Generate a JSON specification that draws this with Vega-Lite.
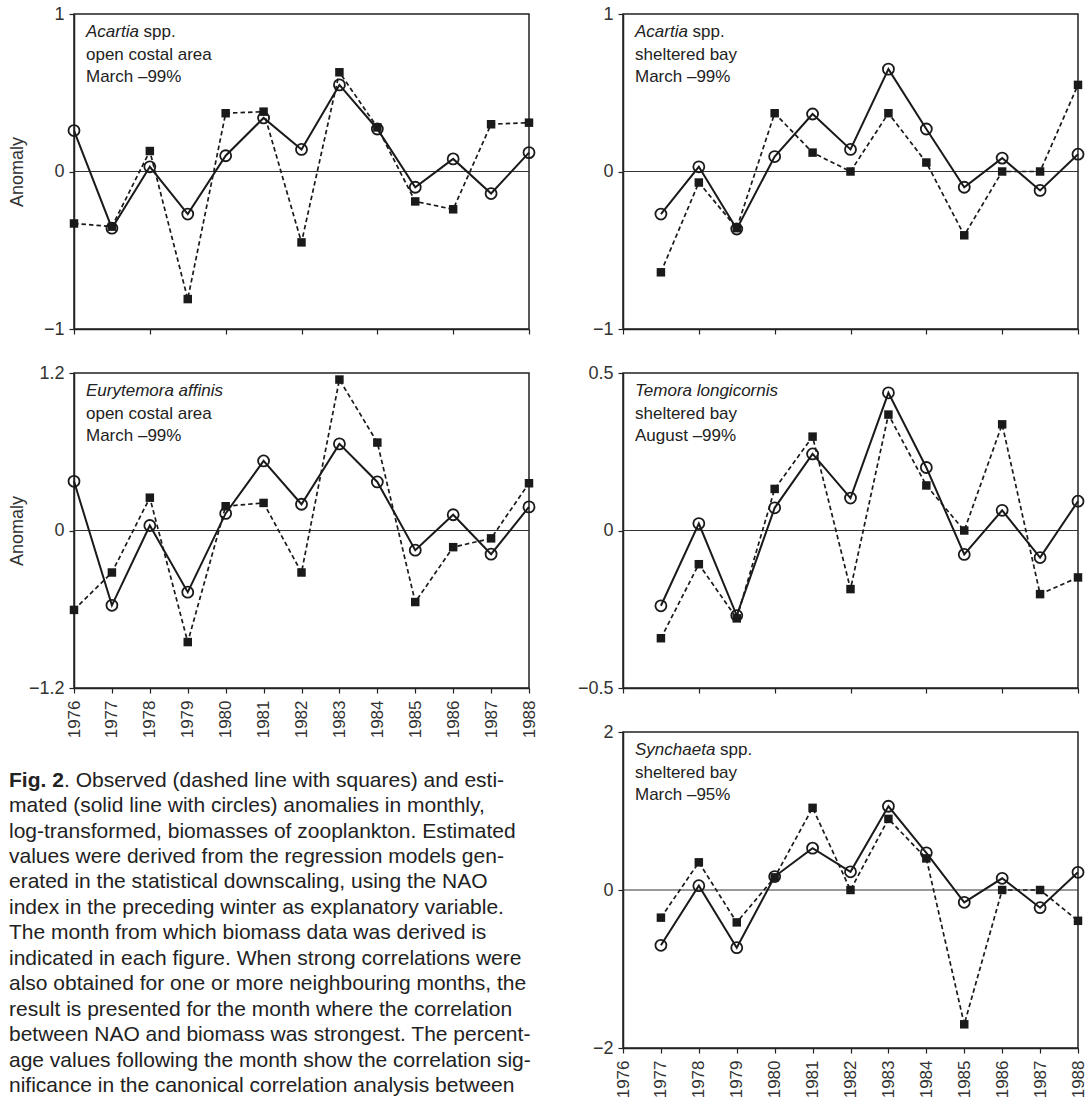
{
  "$schema": "https://vega.github.io/schema/vega-lite/v6.json",
  "padding": {"left": 7, "top": 4, "right": 4, "bottom": 0},
  "background": "white",
  "config": {
    "font": "Liberation Sans",
    "view": {"stroke": "#222", "strokeWidth": 1.5},
    "axis": {"grid": false, "domainColor": "#222", "domainWidth": 1.5, "tickColor": "#222", "tickWidth": 1.2, "tickSize": 5, "labelColor": "#333", "labelFontSize": 18, "labelFont": "Liberation Sans", "labelPadding": 5, "labelOverlap": false, "titleFont": "Liberation Sans", "titleFontSize": 18, "titleFontWeight": "normal", "titleColor": "#333"},
    "text": {"font": "Liberation Sans", "color": "#222"}
  },
  "datasets": {
    "anom": [
      {"panel": "p1", "year": 1976, "series": "estimated", "value": 0.26},
      {"panel": "p1", "year": 1977, "series": "estimated", "value": -0.36},
      {"panel": "p1", "year": 1978, "series": "estimated", "value": 0.03},
      {"panel": "p1", "year": 1979, "series": "estimated", "value": -0.27},
      {"panel": "p1", "year": 1980, "series": "estimated", "value": 0.10},
      {"panel": "p1", "year": 1981, "series": "estimated", "value": 0.34},
      {"panel": "p1", "year": 1982, "series": "estimated", "value": 0.14},
      {"panel": "p1", "year": 1983, "series": "estimated", "value": 0.55},
      {"panel": "p1", "year": 1984, "series": "estimated", "value": 0.27},
      {"panel": "p1", "year": 1985, "series": "estimated", "value": -0.10},
      {"panel": "p1", "year": 1986, "series": "estimated", "value": 0.08},
      {"panel": "p1", "year": 1987, "series": "estimated", "value": -0.14},
      {"panel": "p1", "year": 1988, "series": "estimated", "value": 0.12},
      {"panel": "p1", "year": 1976, "series": "observed", "value": -0.33},
      {"panel": "p1", "year": 1977, "series": "observed", "value": -0.35},
      {"panel": "p1", "year": 1978, "series": "observed", "value": 0.13},
      {"panel": "p1", "year": 1979, "series": "observed", "value": -0.81},
      {"panel": "p1", "year": 1980, "series": "observed", "value": 0.37},
      {"panel": "p1", "year": 1981, "series": "observed", "value": 0.38},
      {"panel": "p1", "year": 1982, "series": "observed", "value": -0.45},
      {"panel": "p1", "year": 1983, "series": "observed", "value": 0.63},
      {"panel": "p1", "year": 1984, "series": "observed", "value": 0.28},
      {"panel": "p1", "year": 1985, "series": "observed", "value": -0.19},
      {"panel": "p1", "year": 1986, "series": "observed", "value": -0.24},
      {"panel": "p1", "year": 1987, "series": "observed", "value": 0.30},
      {"panel": "p1", "year": 1988, "series": "observed", "value": 0.31},
      {"panel": "p2", "year": 1977, "series": "estimated", "value": -0.27},
      {"panel": "p2", "year": 1978, "series": "estimated", "value": 0.03},
      {"panel": "p2", "year": 1979, "series": "estimated", "value": -0.365},
      {"panel": "p2", "year": 1980, "series": "estimated", "value": 0.095},
      {"panel": "p2", "year": 1981, "series": "estimated", "value": 0.365},
      {"panel": "p2", "year": 1982, "series": "estimated", "value": 0.14},
      {"panel": "p2", "year": 1983, "series": "estimated", "value": 0.65},
      {"panel": "p2", "year": 1984, "series": "estimated", "value": 0.27},
      {"panel": "p2", "year": 1985, "series": "estimated", "value": -0.10},
      {"panel": "p2", "year": 1986, "series": "estimated", "value": 0.085},
      {"panel": "p2", "year": 1987, "series": "estimated", "value": -0.12},
      {"panel": "p2", "year": 1988, "series": "estimated", "value": 0.11},
      {"panel": "p2", "year": 1977, "series": "observed", "value": -0.64},
      {"panel": "p2", "year": 1978, "series": "observed", "value": -0.07},
      {"panel": "p2", "year": 1979, "series": "observed", "value": -0.36},
      {"panel": "p2", "year": 1980, "series": "observed", "value": 0.37},
      {"panel": "p2", "year": 1981, "series": "observed", "value": 0.12},
      {"panel": "p2", "year": 1982, "series": "observed", "value": 0.0},
      {"panel": "p2", "year": 1983, "series": "observed", "value": 0.37},
      {"panel": "p2", "year": 1984, "series": "observed", "value": 0.057},
      {"panel": "p2", "year": 1985, "series": "observed", "value": -0.405},
      {"panel": "p2", "year": 1986, "series": "observed", "value": 0.0},
      {"panel": "p2", "year": 1987, "series": "observed", "value": 0.0},
      {"panel": "p2", "year": 1988, "series": "observed", "value": 0.55},
      {"panel": "p3", "year": 1976, "series": "estimated", "value": 0.375},
      {"panel": "p3", "year": 1977, "series": "estimated", "value": -0.57},
      {"panel": "p3", "year": 1978, "series": "estimated", "value": 0.038},
      {"panel": "p3", "year": 1979, "series": "estimated", "value": -0.47},
      {"panel": "p3", "year": 1980, "series": "estimated", "value": 0.13},
      {"panel": "p3", "year": 1981, "series": "estimated", "value": 0.53},
      {"panel": "p3", "year": 1982, "series": "estimated", "value": 0.20},
      {"panel": "p3", "year": 1983, "series": "estimated", "value": 0.66},
      {"panel": "p3", "year": 1984, "series": "estimated", "value": 0.37},
      {"panel": "p3", "year": 1985, "series": "estimated", "value": -0.15},
      {"panel": "p3", "year": 1986, "series": "estimated", "value": 0.12},
      {"panel": "p3", "year": 1987, "series": "estimated", "value": -0.18},
      {"panel": "p3", "year": 1988, "series": "estimated", "value": 0.18},
      {"panel": "p3", "year": 1976, "series": "observed", "value": -0.605},
      {"panel": "p3", "year": 1977, "series": "observed", "value": -0.32},
      {"panel": "p3", "year": 1978, "series": "observed", "value": 0.25},
      {"panel": "p3", "year": 1979, "series": "observed", "value": -0.85},
      {"panel": "p3", "year": 1980, "series": "observed", "value": 0.185},
      {"panel": "p3", "year": 1981, "series": "observed", "value": 0.21},
      {"panel": "p3", "year": 1982, "series": "observed", "value": -0.32},
      {"panel": "p3", "year": 1983, "series": "observed", "value": 1.15},
      {"panel": "p3", "year": 1984, "series": "observed", "value": 0.67},
      {"panel": "p3", "year": 1985, "series": "observed", "value": -0.545},
      {"panel": "p3", "year": 1986, "series": "observed", "value": -0.127},
      {"panel": "p3", "year": 1987, "series": "observed", "value": -0.06},
      {"panel": "p3", "year": 1988, "series": "observed", "value": 0.36},
      {"panel": "p4", "year": 1977, "series": "estimated", "value": -0.239},
      {"panel": "p4", "year": 1978, "series": "estimated", "value": 0.022},
      {"panel": "p4", "year": 1979, "series": "estimated", "value": -0.27},
      {"panel": "p4", "year": 1980, "series": "estimated", "value": 0.072},
      {"panel": "p4", "year": 1981, "series": "estimated", "value": 0.243},
      {"panel": "p4", "year": 1982, "series": "estimated", "value": 0.103},
      {"panel": "p4", "year": 1983, "series": "estimated", "value": 0.437},
      {"panel": "p4", "year": 1984, "series": "estimated", "value": 0.20},
      {"panel": "p4", "year": 1985, "series": "estimated", "value": -0.076},
      {"panel": "p4", "year": 1986, "series": "estimated", "value": 0.064},
      {"panel": "p4", "year": 1987, "series": "estimated", "value": -0.086},
      {"panel": "p4", "year": 1988, "series": "estimated", "value": 0.093},
      {"panel": "p4", "year": 1977, "series": "observed", "value": -0.342},
      {"panel": "p4", "year": 1978, "series": "observed", "value": -0.107},
      {"panel": "p4", "year": 1979, "series": "observed", "value": -0.279},
      {"panel": "p4", "year": 1980, "series": "observed", "value": 0.132},
      {"panel": "p4", "year": 1981, "series": "observed", "value": 0.298},
      {"panel": "p4", "year": 1982, "series": "observed", "value": -0.186},
      {"panel": "p4", "year": 1983, "series": "observed", "value": 0.368},
      {"panel": "p4", "year": 1984, "series": "observed", "value": 0.143},
      {"panel": "p4", "year": 1985, "series": "observed", "value": 0.0},
      {"panel": "p4", "year": 1986, "series": "observed", "value": 0.337},
      {"panel": "p4", "year": 1987, "series": "observed", "value": -0.202},
      {"panel": "p4", "year": 1988, "series": "observed", "value": -0.149},
      {"panel": "p5", "year": 1977, "series": "estimated", "value": -0.70},
      {"panel": "p5", "year": 1978, "series": "estimated", "value": 0.055},
      {"panel": "p5", "year": 1979, "series": "estimated", "value": -0.73},
      {"panel": "p5", "year": 1980, "series": "estimated", "value": 0.17},
      {"panel": "p5", "year": 1981, "series": "estimated", "value": 0.53},
      {"panel": "p5", "year": 1982, "series": "estimated", "value": 0.23},
      {"panel": "p5", "year": 1983, "series": "estimated", "value": 1.06},
      {"panel": "p5", "year": 1984, "series": "estimated", "value": 0.47},
      {"panel": "p5", "year": 1985, "series": "estimated", "value": -0.156},
      {"panel": "p5", "year": 1986, "series": "estimated", "value": 0.148},
      {"panel": "p5", "year": 1987, "series": "estimated", "value": -0.224},
      {"panel": "p5", "year": 1988, "series": "estimated", "value": 0.224},
      {"panel": "p5", "year": 1977, "series": "observed", "value": -0.35},
      {"panel": "p5", "year": 1978, "series": "observed", "value": 0.35},
      {"panel": "p5", "year": 1979, "series": "observed", "value": -0.41},
      {"panel": "p5", "year": 1980, "series": "observed", "value": 0.16},
      {"panel": "p5", "year": 1981, "series": "observed", "value": 1.04},
      {"panel": "p5", "year": 1982, "series": "observed", "value": 0.0},
      {"panel": "p5", "year": 1983, "series": "observed", "value": 0.90},
      {"panel": "p5", "year": 1984, "series": "observed", "value": 0.40},
      {"panel": "p5", "year": 1985, "series": "observed", "value": -1.70},
      {"panel": "p5", "year": 1986, "series": "observed", "value": 0.0},
      {"panel": "p5", "year": 1987, "series": "observed", "value": 0.0},
      {"panel": "p5", "year": 1988, "series": "observed", "value": -0.39}
    ],
    "labels": [
      {"panel": "p1", "line": 1, "style": "italic", "text": "Acartia"},
      {"panel": "p1", "line": 1, "style": "normal", "text": "spp."},
      {"panel": "p1", "line": 2, "style": "normal", "text": "open costal area"},
      {"panel": "p1", "line": 3, "style": "normal", "text": "March –99%"},
      {"panel": "p2", "line": 1, "style": "italic", "text": "Acartia"},
      {"panel": "p2", "line": 1, "style": "normal", "text": "spp."},
      {"panel": "p2", "line": 2, "style": "normal", "text": "sheltered bay"},
      {"panel": "p2", "line": 3, "style": "normal", "text": "March –99%"},
      {"panel": "p3", "line": 1, "style": "italic", "text": "Eurytemora affinis"},
      {"panel": "p3", "line": 2, "style": "normal", "text": "open costal area"},
      {"panel": "p3", "line": 3, "style": "normal", "text": "March –99%"},
      {"panel": "p4", "line": 1, "style": "italic", "text": "Temora longicornis"},
      {"panel": "p4", "line": 2, "style": "normal", "text": "sheltered bay"},
      {"panel": "p4", "line": 3, "style": "normal", "text": "August –99%"},
      {"panel": "p5", "line": 1, "style": "italic", "text": "Synchaeta"},
      {"panel": "p5", "line": 1, "style": "normal", "text": "spp."},
      {"panel": "p5", "line": 2, "style": "normal", "text": "sheltered bay"},
      {"panel": "p5", "line": 3, "style": "normal", "text": "March –95%"}
    ],
    "caption": [
      {"line": 1, "part": "bold", "text": "Fig. 2"},
      {"line": 1, "part": "first", "text": ". Observed (dashed line with squares) and esti-"},
      {"line": 2, "part": "body", "text": "mated (solid line with circles) anomalies in monthly,"},
      {"line": 3, "part": "body", "text": "log-transformed, biomasses of zooplankton. Estimated"},
      {"line": 4, "part": "body", "text": "values were derived from the regression models gen-"},
      {"line": 5, "part": "body", "text": "erated in the statistical downscaling, using the NAO"},
      {"line": 6, "part": "body", "text": "index in the preceding winter as explanatory variable."},
      {"line": 7, "part": "body", "text": "The month from which biomass data was derived is"},
      {"line": 8, "part": "body", "text": "indicated in each figure. When strong correlations were"},
      {"line": 9, "part": "body", "text": "also obtained for one or more neighbouring months, the"},
      {"line": 10, "part": "body", "text": "result is presented for the month where the correlation"},
      {"line": 11, "part": "body", "text": "between NAO and biomass was strongest. The percent-"},
      {"line": 12, "part": "body", "text": "age values following the month show the correlation sig-"},
      {"line": 13, "part": "body", "text": "nificance in the canonical correlation analysis between"}
    ]
  },
  "columns": 2,
  "bounds": "flush",
  "spacing": {"row": 44, "column": 94},
  "concat": [
    {
      "width": 455, "height": 315,
      "layer": [
        {"data": {"values": [{}]}, "mark": {"type": "rule", "color": "#333", "strokeWidth": 1}, "encoding": {"y": {"datum": 0}}},
        {"data": {"name": "anom"}, "transform": [{"filter": "datum.panel === 'p1' && datum.series === 'observed'"}], "mark": {"type": "line", "color": "#1a1a1a", "strokeWidth": 1.7, "strokeDash": [4.5, 3]},
         "encoding": {
           "x": {"field": "year", "type": "quantitative", "scale": {"domain": [1976, 1988], "nice": false, "zero": false}, "axis": {"values": [1976, 1978, 1980, 1982, 1984, 1986, 1988], "labels": false, "title": null}},
           "y": {"field": "value", "type": "quantitative", "scale": {"domain": [-1, 1], "nice": false, "zero": false}, "axis": {"values": [-1, 0, 1], "format": "~g", "title": "Anomaly", "minExtent": 46, "maxExtent": 46, "titlePadding": 2}}
         }},
        {"data": {"name": "anom"}, "transform": [{"filter": "datum.panel === 'p1' && datum.series === 'estimated'"}], "mark": {"type": "line", "color": "#1a1a1a", "strokeWidth": 2}, "encoding": {"x": {"field": "year", "type": "quantitative"}, "y": {"field": "value", "type": "quantitative"}}},
        {"data": {"name": "anom"}, "transform": [{"filter": "datum.panel === 'p1' && datum.series === 'observed'"}], "mark": {"type": "point", "shape": "square", "filled": true, "size": 72, "color": "#1a1a1a", "opacity": 1}, "encoding": {"x": {"field": "year", "type": "quantitative"}, "y": {"field": "value", "type": "quantitative"}}},
        {"data": {"name": "anom"}, "transform": [{"filter": "datum.panel === 'p1' && datum.series === 'estimated'"}], "mark": {"type": "point", "shape": "circle", "filled": false, "size": 121, "color": "#1a1a1a", "strokeWidth": 1.8, "opacity": 1}, "encoding": {"x": {"field": "year", "type": "quantitative"}, "y": {"field": "value", "type": "quantitative"}}},
        {"data": {"name": "labels"}, "transform": [{"filter": "datum.panel === 'p1' && datum.line === 1 && datum.style === 'italic'"}], "mark": {"type": "text", "align": "left", "baseline": "alphabetic", "fontSize": 17, "fontStyle": "italic", "dx": 12, "dy": 23}, "encoding": {"x": {"datum": 1976}, "y": {"datum": 1}, "text": {"field": "text"}}},
        {"data": {"name": "labels"}, "transform": [{"filter": "datum.panel === 'p1' && datum.line === 1 && datum.style === 'normal'"}], "mark": {"type": "text", "align": "left", "baseline": "alphabetic", "fontSize": 17, "dx": 69.6, "dy": 23}, "encoding": {"x": {"datum": 1976}, "y": {"datum": 1}, "text": {"field": "text"}}},
        {"data": {"name": "labels"}, "transform": [{"filter": "datum.panel === 'p1' && datum.line === 2"}], "mark": {"type": "text", "align": "left", "baseline": "alphabetic", "fontSize": 17, "dx": 12, "dy": 45.5}, "encoding": {"x": {"datum": 1976}, "y": {"datum": 1}, "text": {"field": "text"}}},
        {"data": {"name": "labels"}, "transform": [{"filter": "datum.panel === 'p1' && datum.line === 3"}], "mark": {"type": "text", "align": "left", "baseline": "alphabetic", "fontSize": 17, "dx": 12, "dy": 68}, "encoding": {"x": {"datum": 1976}, "y": {"datum": 1}, "text": {"field": "text"}}}
      ]
    },
    {
      "width": 455, "height": 315,
      "layer": [
        {"data": {"values": [{}]}, "mark": {"type": "rule", "color": "#333", "strokeWidth": 1}, "encoding": {"y": {"datum": 0}}},
        {"data": {"name": "anom"}, "transform": [{"filter": "datum.panel === 'p2' && datum.series === 'observed'"}], "mark": {"type": "line", "color": "#1a1a1a", "strokeWidth": 1.7, "strokeDash": [4.5, 3]},
         "encoding": {
           "x": {"field": "year", "type": "quantitative", "scale": {"domain": [1976, 1988], "nice": false, "zero": false}, "axis": {"values": [1976, 1978, 1980, 1982, 1984, 1986, 1988], "labels": false, "title": null}},
           "y": {"field": "value", "type": "quantitative", "scale": {"domain": [-1, 1], "nice": false, "zero": false}, "axis": {"values": [-1, 0, 1], "format": "~g", "title": null}}
         }},
        {"data": {"name": "anom"}, "transform": [{"filter": "datum.panel === 'p2' && datum.series === 'estimated'"}], "mark": {"type": "line", "color": "#1a1a1a", "strokeWidth": 2}, "encoding": {"x": {"field": "year", "type": "quantitative"}, "y": {"field": "value", "type": "quantitative"}}},
        {"data": {"name": "anom"}, "transform": [{"filter": "datum.panel === 'p2' && datum.series === 'observed'"}], "mark": {"type": "point", "shape": "square", "filled": true, "size": 72, "color": "#1a1a1a", "opacity": 1}, "encoding": {"x": {"field": "year", "type": "quantitative"}, "y": {"field": "value", "type": "quantitative"}}},
        {"data": {"name": "anom"}, "transform": [{"filter": "datum.panel === 'p2' && datum.series === 'estimated'"}], "mark": {"type": "point", "shape": "circle", "filled": false, "size": 121, "color": "#1a1a1a", "strokeWidth": 1.8, "opacity": 1}, "encoding": {"x": {"field": "year", "type": "quantitative"}, "y": {"field": "value", "type": "quantitative"}}},
        {"data": {"name": "labels"}, "transform": [{"filter": "datum.panel === 'p2' && datum.line === 1 && datum.style === 'italic'"}], "mark": {"type": "text", "align": "left", "baseline": "alphabetic", "fontSize": 17, "fontStyle": "italic", "dx": 12, "dy": 23}, "encoding": {"x": {"datum": 1976}, "y": {"datum": 1}, "text": {"field": "text"}}},
        {"data": {"name": "labels"}, "transform": [{"filter": "datum.panel === 'p2' && datum.line === 1 && datum.style === 'normal'"}], "mark": {"type": "text", "align": "left", "baseline": "alphabetic", "fontSize": 17, "dx": 69.6, "dy": 23}, "encoding": {"x": {"datum": 1976}, "y": {"datum": 1}, "text": {"field": "text"}}},
        {"data": {"name": "labels"}, "transform": [{"filter": "datum.panel === 'p2' && datum.line === 2"}], "mark": {"type": "text", "align": "left", "baseline": "alphabetic", "fontSize": 17, "dx": 12, "dy": 45.5}, "encoding": {"x": {"datum": 1976}, "y": {"datum": 1}, "text": {"field": "text"}}},
        {"data": {"name": "labels"}, "transform": [{"filter": "datum.panel === 'p2' && datum.line === 3"}], "mark": {"type": "text", "align": "left", "baseline": "alphabetic", "fontSize": 17, "dx": 12, "dy": 68}, "encoding": {"x": {"datum": 1976}, "y": {"datum": 1}, "text": {"field": "text"}}}
      ]
    },
    {
      "width": 455, "height": 315,
      "layer": [
        {"data": {"values": [{}]}, "mark": {"type": "rule", "color": "#333", "strokeWidth": 1}, "encoding": {"y": {"datum": 0}}},
        {"data": {"name": "anom"}, "transform": [{"filter": "datum.panel === 'p3' && datum.series === 'observed'"}], "mark": {"type": "line", "color": "#1a1a1a", "strokeWidth": 1.7, "strokeDash": [4.5, 3]},
         "encoding": {
           "x": {"field": "year", "type": "ordinal", "scale": {"type": "point", "padding": 0, "domain": [1976, 1977, 1978, 1979, 1980, 1981, 1982, 1983, 1984, 1985, 1986, 1987, 1988]}, "axis": {"labelAngle": -90, "labelFontSize": 17, "labelPadding": 7, "labelOverlap": false, "title": null}},
           "y": {"field": "value", "type": "quantitative", "scale": {"domain": [-1.2, 1.2], "nice": false, "zero": false}, "axis": {"values": [-1.2, 0, 1.2], "format": "~g", "title": "Anomaly", "minExtent": 46, "maxExtent": 46, "titlePadding": 2}}
         }},
        {"data": {"name": "anom"}, "transform": [{"filter": "datum.panel === 'p3' && datum.series === 'estimated'"}], "mark": {"type": "line", "color": "#1a1a1a", "strokeWidth": 2}, "encoding": {"x": {"field": "year", "type": "ordinal"}, "y": {"field": "value", "type": "quantitative"}}},
        {"data": {"name": "anom"}, "transform": [{"filter": "datum.panel === 'p3' && datum.series === 'observed'"}], "mark": {"type": "point", "shape": "square", "filled": true, "size": 72, "color": "#1a1a1a", "opacity": 1}, "encoding": {"x": {"field": "year", "type": "ordinal"}, "y": {"field": "value", "type": "quantitative"}}},
        {"data": {"name": "anom"}, "transform": [{"filter": "datum.panel === 'p3' && datum.series === 'estimated'"}], "mark": {"type": "point", "shape": "circle", "filled": false, "size": 121, "color": "#1a1a1a", "strokeWidth": 1.8, "opacity": 1}, "encoding": {"x": {"field": "year", "type": "ordinal"}, "y": {"field": "value", "type": "quantitative"}}},
        {"data": {"name": "labels"}, "transform": [{"filter": "datum.panel === 'p3' && datum.line === 1"}], "mark": {"type": "text", "align": "left", "baseline": "alphabetic", "fontSize": 17, "fontStyle": "italic", "dx": 12, "dy": 23}, "encoding": {"x": {"datum": 1976, "type": "ordinal"}, "y": {"datum": 1.2}, "text": {"field": "text"}}},
        {"data": {"name": "labels"}, "transform": [{"filter": "datum.panel === 'p3' && datum.line === 2"}], "mark": {"type": "text", "align": "left", "baseline": "alphabetic", "fontSize": 17, "dx": 12, "dy": 45.5}, "encoding": {"x": {"datum": 1976, "type": "ordinal"}, "y": {"datum": 1.2}, "text": {"field": "text"}}},
        {"data": {"name": "labels"}, "transform": [{"filter": "datum.panel === 'p3' && datum.line === 3"}], "mark": {"type": "text", "align": "left", "baseline": "alphabetic", "fontSize": 17, "dx": 12, "dy": 68}, "encoding": {"x": {"datum": 1976, "type": "ordinal"}, "y": {"datum": 1.2}, "text": {"field": "text"}}}
      ]
    },
    {
      "width": 455, "height": 315,
      "layer": [
        {"data": {"values": [{}]}, "mark": {"type": "rule", "color": "#333", "strokeWidth": 1}, "encoding": {"y": {"datum": 0}}},
        {"data": {"name": "anom"}, "transform": [{"filter": "datum.panel === 'p4' && datum.series === 'observed'"}], "mark": {"type": "line", "color": "#1a1a1a", "strokeWidth": 1.7, "strokeDash": [4.5, 3]},
         "encoding": {
           "x": {"field": "year", "type": "quantitative", "scale": {"domain": [1976, 1988], "nice": false, "zero": false}, "axis": {"values": [1976, 1978, 1980, 1982, 1984, 1986, 1988], "labels": false, "title": null}},
           "y": {"field": "value", "type": "quantitative", "scale": {"domain": [-0.5, 0.5], "nice": false, "zero": false}, "axis": {"values": [-0.5, 0, 0.5], "format": "~g", "title": null}}
         }},
        {"data": {"name": "anom"}, "transform": [{"filter": "datum.panel === 'p4' && datum.series === 'estimated'"}], "mark": {"type": "line", "color": "#1a1a1a", "strokeWidth": 2}, "encoding": {"x": {"field": "year", "type": "quantitative"}, "y": {"field": "value", "type": "quantitative"}}},
        {"data": {"name": "anom"}, "transform": [{"filter": "datum.panel === 'p4' && datum.series === 'observed'"}], "mark": {"type": "point", "shape": "square", "filled": true, "size": 72, "color": "#1a1a1a", "opacity": 1}, "encoding": {"x": {"field": "year", "type": "quantitative"}, "y": {"field": "value", "type": "quantitative"}}},
        {"data": {"name": "anom"}, "transform": [{"filter": "datum.panel === 'p4' && datum.series === 'estimated'"}], "mark": {"type": "point", "shape": "circle", "filled": false, "size": 121, "color": "#1a1a1a", "strokeWidth": 1.8, "opacity": 1}, "encoding": {"x": {"field": "year", "type": "quantitative"}, "y": {"field": "value", "type": "quantitative"}}},
        {"data": {"name": "labels"}, "transform": [{"filter": "datum.panel === 'p4' && datum.line === 1"}], "mark": {"type": "text", "align": "left", "baseline": "alphabetic", "fontSize": 17, "fontStyle": "italic", "dx": 12, "dy": 23}, "encoding": {"x": {"datum": 1976}, "y": {"datum": 0.5}, "text": {"field": "text"}}},
        {"data": {"name": "labels"}, "transform": [{"filter": "datum.panel === 'p4' && datum.line === 2"}], "mark": {"type": "text", "align": "left", "baseline": "alphabetic", "fontSize": 17, "dx": 12, "dy": 45.5}, "encoding": {"x": {"datum": 1976}, "y": {"datum": 0.5}, "text": {"field": "text"}}},
        {"data": {"name": "labels"}, "transform": [{"filter": "datum.panel === 'p4' && datum.line === 3"}], "mark": {"type": "text", "align": "left", "baseline": "alphabetic", "fontSize": 17, "dx": 12, "dy": 68}, "encoding": {"x": {"datum": 1976}, "y": {"datum": 0.5}, "text": {"field": "text"}}}
      ]
    },
    {
      "width": 455, "height": 360,
      "view": {"stroke": null},
      "data": {"name": "caption"},
      "encoding": {
        "x": {"datum": 0, "type": "quantitative", "scale": {"domain": [0, 1]}, "axis": null},
        "y": {"field": "line", "type": "quantitative", "scale": {"domain": [-1.15, 13], "reverse": true, "nice": false, "zero": false}, "axis": null},
        "text": {"field": "text"}
      },
      "layer": [
        {"transform": [{"filter": "datum.part === 'bold'"}], "mark": {"type": "text", "align": "left", "baseline": "alphabetic", "fontSize": 21, "fontWeight": "bold", "dx": -65}},
        {"transform": [{"filter": "datum.part === 'first'"}], "mark": {"type": "text", "align": "left", "baseline": "alphabetic", "fontSize": 21, "dx": -10}},
        {"transform": [{"filter": "datum.part === 'body'"}], "mark": {"type": "text", "align": "left", "baseline": "alphabetic", "fontSize": 21, "dx": -65}}
      ]
    },
    {
      "width": 455, "height": 316,
      "layer": [
        {"data": {"values": [{}]}, "mark": {"type": "rule", "color": "#333", "strokeWidth": 1}, "encoding": {"y": {"datum": 0}}},
        {"data": {"name": "anom"}, "transform": [{"filter": "datum.panel === 'p5' && datum.series === 'observed'"}], "mark": {"type": "line", "color": "#1a1a1a", "strokeWidth": 1.7, "strokeDash": [4.5, 3]},
         "encoding": {
           "x": {"field": "year", "type": "ordinal", "scale": {"type": "point", "padding": 0, "domain": [1976, 1977, 1978, 1979, 1980, 1981, 1982, 1983, 1984, 1985, 1986, 1987, 1988]}, "axis": {"labelAngle": -90, "labelFontSize": 17, "labelPadding": 7, "labelOverlap": false, "title": null}},
           "y": {"field": "value", "type": "quantitative", "scale": {"domain": [-2, 2], "nice": false, "zero": false}, "axis": {"values": [-2, 0, 2], "format": "~g", "title": null}}
         }},
        {"data": {"name": "anom"}, "transform": [{"filter": "datum.panel === 'p5' && datum.series === 'estimated'"}], "mark": {"type": "line", "color": "#1a1a1a", "strokeWidth": 2}, "encoding": {"x": {"field": "year", "type": "ordinal"}, "y": {"field": "value", "type": "quantitative"}}},
        {"data": {"name": "anom"}, "transform": [{"filter": "datum.panel === 'p5' && datum.series === 'observed'"}], "mark": {"type": "point", "shape": "square", "filled": true, "size": 72, "color": "#1a1a1a", "opacity": 1}, "encoding": {"x": {"field": "year", "type": "ordinal"}, "y": {"field": "value", "type": "quantitative"}}},
        {"data": {"name": "anom"}, "transform": [{"filter": "datum.panel === 'p5' && datum.series === 'estimated'"}], "mark": {"type": "point", "shape": "circle", "filled": false, "size": 121, "color": "#1a1a1a", "strokeWidth": 1.8, "opacity": 1}, "encoding": {"x": {"field": "year", "type": "ordinal"}, "y": {"field": "value", "type": "quantitative"}}},
        {"data": {"name": "labels"}, "transform": [{"filter": "datum.panel === 'p5' && datum.line === 1 && datum.style === 'italic'"}], "mark": {"type": "text", "align": "left", "baseline": "alphabetic", "fontSize": 17, "fontStyle": "italic", "dx": 12, "dy": 23}, "encoding": {"x": {"datum": 1976, "type": "ordinal"}, "y": {"datum": 2}, "text": {"field": "text"}}},
        {"data": {"name": "labels"}, "transform": [{"filter": "datum.panel === 'p5' && datum.line === 1 && datum.style === 'normal'"}], "mark": {"type": "text", "align": "left", "baseline": "alphabetic", "fontSize": 17, "dx": 97, "dy": 23}, "encoding": {"x": {"datum": 1976, "type": "ordinal"}, "y": {"datum": 2}, "text": {"field": "text"}}},
        {"data": {"name": "labels"}, "transform": [{"filter": "datum.panel === 'p5' && datum.line === 2"}], "mark": {"type": "text", "align": "left", "baseline": "alphabetic", "fontSize": 17, "dx": 12, "dy": 45.5}, "encoding": {"x": {"datum": 1976, "type": "ordinal"}, "y": {"datum": 2}, "text": {"field": "text"}}},
        {"data": {"name": "labels"}, "transform": [{"filter": "datum.panel === 'p5' && datum.line === 3"}], "mark": {"type": "text", "align": "left", "baseline": "alphabetic", "fontSize": 17, "dx": 12, "dy": 68}, "encoding": {"x": {"datum": 1976, "type": "ordinal"}, "y": {"datum": 2}, "text": {"field": "text"}}}
      ]
    }
  ]
}
